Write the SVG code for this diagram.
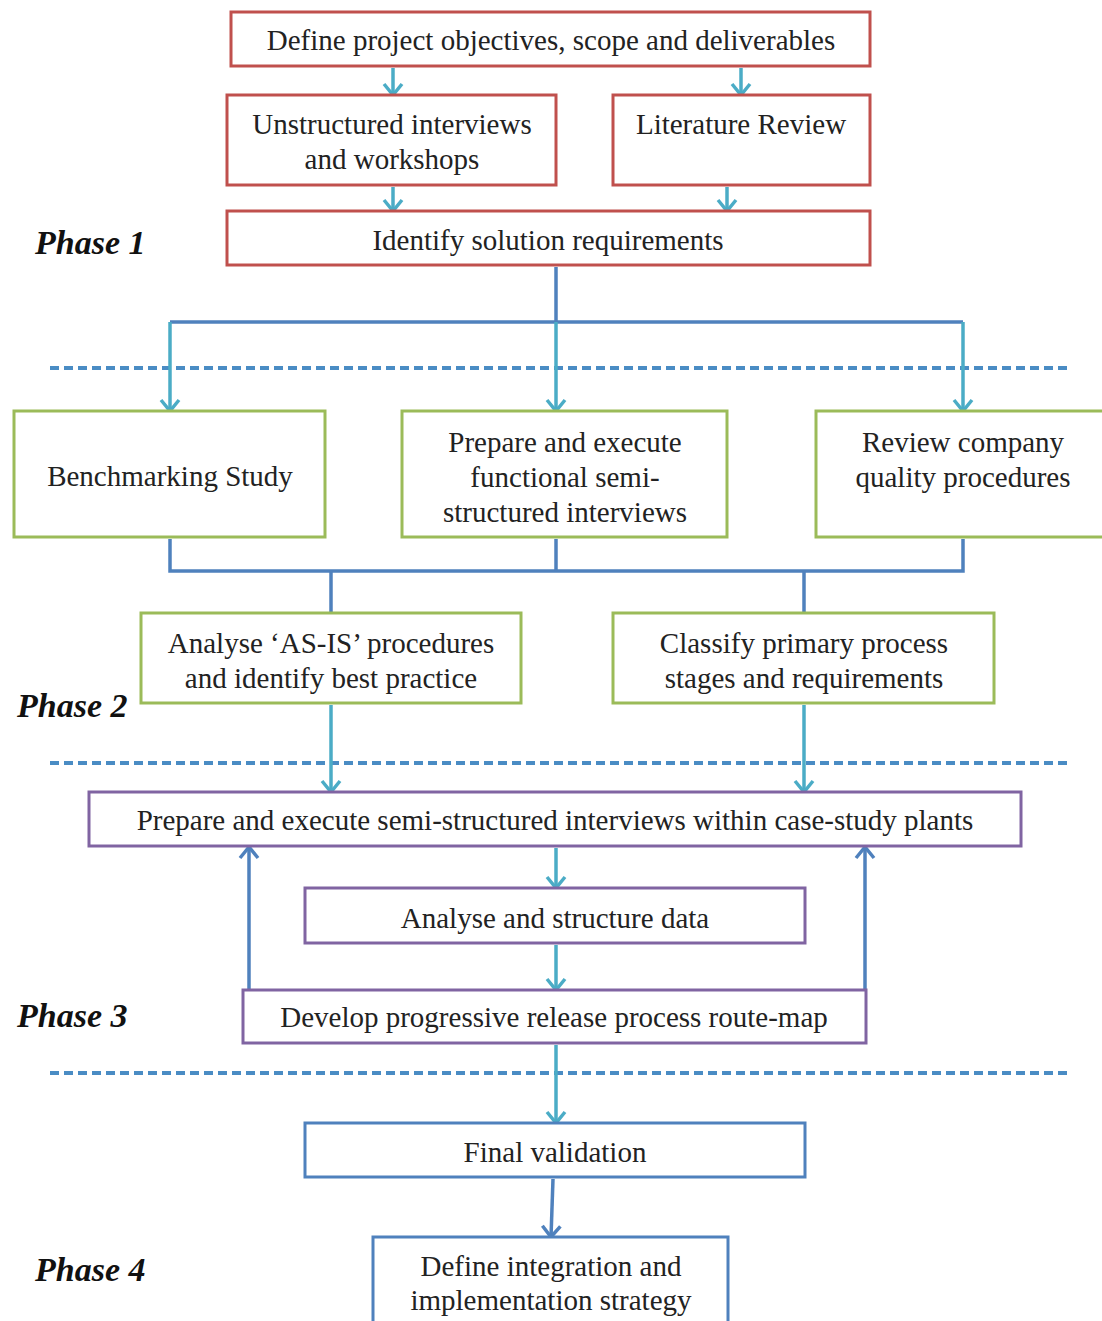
<svg xmlns="http://www.w3.org/2000/svg" width="1102" height="1321" viewBox="0 0 1102 1321">
  <style>
    .box { fill: #ffffff; stroke-width: 3; }
    .red { stroke: #c0504d; }
    .green { stroke: #9bbb59; }
    .purple { stroke: #8064a2; }
    .blue { stroke: #4f81bd; }
    .t { font-family: "Liberation Serif", "Times New Roman", serif; font-size: 29px; fill: #222222; text-anchor: middle; }
    .phase { font-family: "Liberation Serif", "Times New Roman", serif; font-size: 34px; font-weight: bold; font-style: italic; fill: #111111; }
    .arrow { fill: none; stroke: #4bacc6; stroke-width: 3.5; marker-end: url(#head); }
    .arrowdk { fill: none; stroke: #4f81bd; stroke-width: 3.5; marker-end: url(#headdk); }
    .line { fill: none; stroke: #4f81bd; stroke-width: 3.5; }
    .dash { fill: none; stroke: #4a8cc4; stroke-width: 4; stroke-dasharray: 9 5; }
  </style>
  <defs>
    <!-- open chevron heads, drawn along +x so orient="auto" follows the line -->
    <marker id="head" viewBox="0 0 16 22" refX="14" refY="11" markerWidth="16" markerHeight="22" markerUnits="userSpaceOnUse" orient="auto">
      <path d="M3,2 L14,11 L3,20" fill="none" stroke="#4bacc6" stroke-width="3.5"/>
    </marker>
    <marker id="headdk" viewBox="0 0 16 22" refX="14" refY="11" markerWidth="16" markerHeight="22" markerUnits="userSpaceOnUse" orient="auto">
      <path d="M3,2 L14,11 L3,20" fill="none" stroke="#4f81bd" stroke-width="3.5"/>
    </marker>
  </defs>

  <rect width="1102" height="1321" fill="#ffffff"/>

  <!-- phase separators -->
  <g id="separators">
    <line class="dash" x1="50" y1="368" x2="1068" y2="368"/>
    <line class="dash" x1="50" y1="763" x2="1068" y2="763"/>
    <line class="dash" x1="50" y1="1073" x2="1068" y2="1073"/>
  </g>

  <!-- phase labels -->
  <g id="phase-labels">
    <text class="phase" x="35" y="254">Phase 1</text>
    <text class="phase" x="17" y="717">Phase 2</text>
    <text class="phase" x="17" y="1027">Phase 3</text>
    <text class="phase" x="35" y="1281">Phase 4</text>
  </g>

  <!-- connectors -->
  <g id="connectors">
    <path class="arrow" d="M393,68 V95"/>
    <path class="arrow" d="M741,68 V95"/>
    <path class="arrow" d="M393,187 V211"/>
    <path class="arrow" d="M727,187 V211"/>

    <path class="line" d="M556,267 V322"/>
    <path class="line" d="M170,322 H963"/>
    <path class="arrow" d="M170,322 V411"/>
    <path class="arrow" d="M556,322 V411"/>
    <path class="arrow" d="M963,322 V411"/>

    <path class="line" d="M170,539 V571 H963 V539"/>
    <path class="line" d="M556,539 V571"/>
    <path class="line" d="M331,571 V612"/>
    <path class="line" d="M804,571 V612"/>

    <path class="arrow" d="M331,705 V792"/>
    <path class="arrow" d="M804,705 V792"/>

    <path class="arrow" d="M556,848 V888"/>
    <path class="arrow" d="M556,945 V990"/>
    <path class="arrowdk" d="M249,989 V847"/>
    <path class="arrowdk" d="M865,989 V847"/>

    <path class="arrow" d="M556,1045 V1123"/>
    <path class="arrowdk" d="M553,1179 L551,1237"/>
  </g>

  <!-- phase 1 -->
  <g id="define-objectives">
    <rect class="box red" x="231" y="12" width="639" height="54"/>
    <text class="t" x="551" y="50">Define project objectives, scope and deliverables</text>
  </g>
  <g id="unstructured-interviews">
    <rect class="box red" x="227" y="95" width="329" height="90"/>
    <text class="t" x="392" y="134">Unstructured interviews</text>
    <text class="t" x="392" y="169">and workshops</text>
  </g>
  <g id="literature-review">
    <rect class="box red" x="613" y="95" width="257" height="90"/>
    <text class="t" x="741" y="134">Literature Review</text>
  </g>
  <g id="solution-requirements">
    <rect class="box red" x="227" y="211" width="643" height="54"/>
    <text class="t" x="548" y="250">Identify solution requirements</text>
  </g>

  <!-- phase 2 -->
  <g id="benchmarking">
    <rect class="box green" x="14" y="411" width="311" height="126"/>
    <text class="t" x="170" y="486">Benchmarking Study</text>
  </g>
  <g id="functional-interviews">
    <rect class="box green" x="402" y="411" width="325" height="126"/>
    <text class="t" x="565" y="452">Prepare and execute</text>
    <text class="t" x="565" y="487">functional semi-</text>
    <text class="t" x="565" y="522">structured interviews</text>
  </g>
  <g id="quality-procedures">
    <rect class="box green" x="816" y="411" width="300" height="126"/>
    <text class="t" x="963" y="452">Review company</text>
    <text class="t" x="963" y="487">quality procedures</text>
  </g>
  <g id="as-is-analysis">
    <rect class="box green" x="141" y="613" width="380" height="90"/>
    <text class="t" x="331" y="653">Analyse ‘AS-IS’ procedures</text>
    <text class="t" x="331" y="688">and identify best practice</text>
  </g>
  <g id="classify-stages">
    <rect class="box green" x="613" y="613" width="381" height="90"/>
    <text class="t" x="804" y="653">Classify primary process</text>
    <text class="t" x="804" y="688">stages and requirements</text>
  </g>

  <!-- phase 3 -->
  <g id="case-study-interviews">
    <rect class="box purple" x="89" y="792" width="932" height="54"/>
    <text class="t" x="555" y="830">Prepare and execute semi-structured interviews within case-study plants</text>
  </g>
  <g id="structure-data">
    <rect class="box purple" x="305" y="888" width="500" height="55"/>
    <text class="t" x="555" y="928">Analyse and structure data</text>
  </g>
  <g id="route-map">
    <rect class="box purple" x="243" y="990" width="623" height="53"/>
    <text class="t" x="554" y="1027">Develop progressive release process route-map</text>
  </g>

  <!-- phase 4 -->
  <g id="final-validation">
    <rect class="box blue" x="305" y="1123" width="500" height="54"/>
    <text class="t" x="555" y="1162">Final validation</text>
  </g>
  <g id="integration-strategy">
    <rect class="box blue" x="373" y="1237" width="355" height="100"/>
    <text class="t" x="551" y="1276">Define integration and</text>
    <text class="t" x="551" y="1310">implementation strategy</text>
  </g>
</svg>
